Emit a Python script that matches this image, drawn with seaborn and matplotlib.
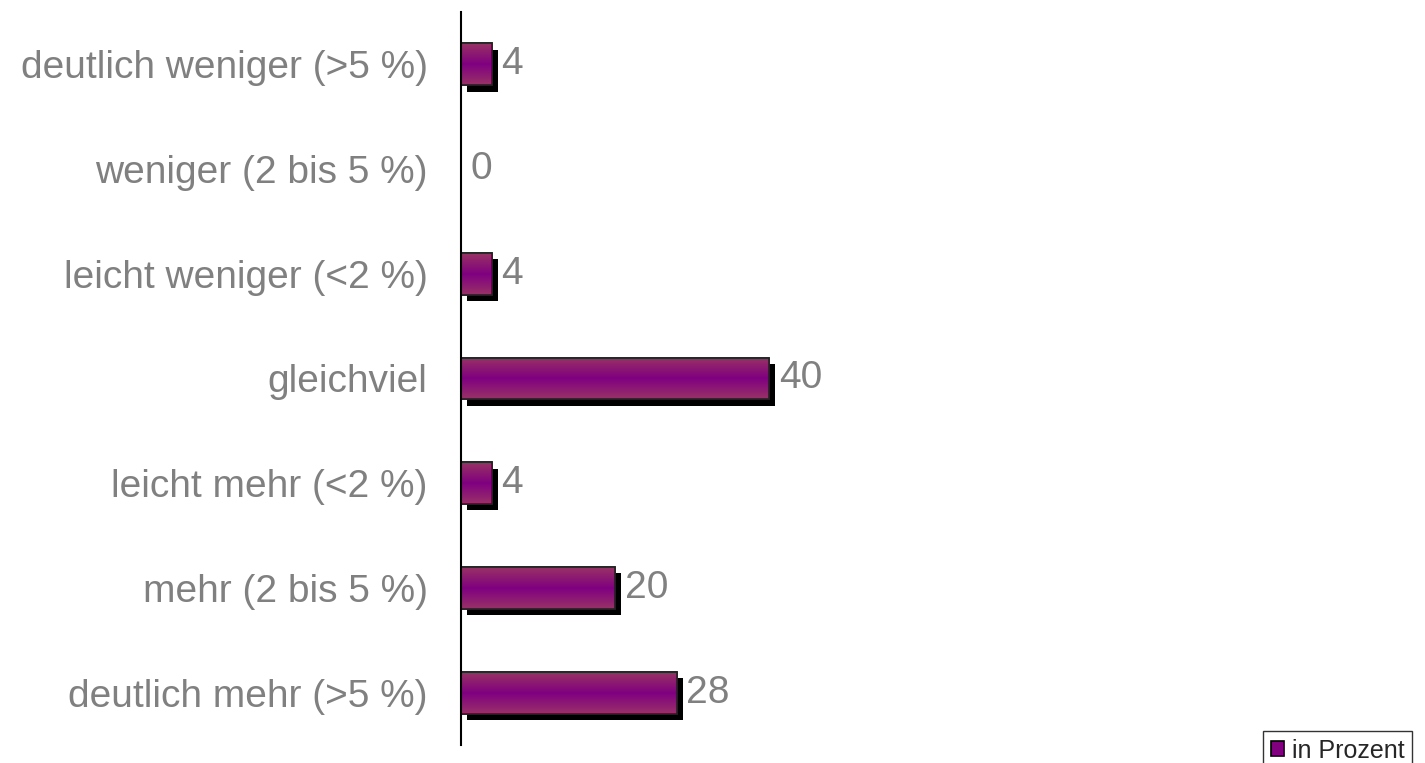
import numpy as np
import pandas as pd
import matplotlib.pyplot as plt
import matplotlib.patheffects as pe
from matplotlib.colors import LinearSegmentedColormap
from matplotlib.patches import Patch
import seaborn as sns

# Daten
kategorien = ['deutlich weniger (>5 %)', 'weniger (2 bis 5 %)', 'leicht weniger (<2 %)',
              'gleichviel', 'leicht mehr (<2 %)', 'mehr (2 bis 5 %)', 'deutlich mehr (>5 %)']
werte = [4, 0, 4, 40, 4, 20, 28]
serie = 'in Prozent'

df = pd.DataFrame({'kategorie': kategorien, 'wert': werte})

sns.set_style("white")
plt.rcParams['font.family'] = ['Liberation Sans', 'DejaVu Sans']

fig = plt.figure(figsize=(14.25, 7.63), dpi=100)
ax = fig.add_axes([461 / 1425, 18 / 763, (1300 - 461) / 1425, 733 / 763])

sns.barplot(data=df, x='wert', y='kategorie', orient='h', color='#800080',
            width=0.4, edgecolor='#222222', linewidth=1.2, ax=ax)

# Farbverlauf (oben/unten rötlich, Mitte lila)
cmap = LinearSegmentedColormap.from_list('lila', ['#993366', '#800080', '#993366'])
grad = np.linspace(0, 1, 256).reshape(-1, 1)

for p in ax.patches:
    if p.get_width() == 0:
        p.set_visible(False)
        continue
    p.set_path_effects([pe.SimplePatchShadow(offset=(4.5, -4.5), shadow_rgbFace='black', alpha=1),
                        pe.Normal()])
    x0, y0 = p.get_x(), p.get_y()
    x1, y1 = x0 + p.get_width(), y0 + p.get_height()
    im = ax.imshow(grad, extent=[x0, x1, y1, y0], aspect='auto', cmap=cmap,
                   interpolation='bilinear', zorder=p.get_zorder() + 0.1)
    im.set_clip_path(p)
    # Rand oben drauf
    ax.add_patch(plt.Rectangle((x0, y0), p.get_width(), p.get_height(), fill=False,
                               edgecolor='#222222', linewidth=1.2, zorder=p.get_zorder() + 0.2))

for c in ax.containers:
    ax.bar_label(c, labels=[str(v) for v in werte], padding=7, color='#808080', fontsize=28)

ax.set_xlim(0, (1300 - 461) / 7.7)
ax.set_ylim(6.5, -0.5)
ax.set_xlabel('')
ax.set_ylabel('')
ax.set_xticks([])
ax.tick_params(axis='y', length=0, pad=24, labelsize=28, labelcolor='#808080')
for s in ['top', 'right', 'bottom']:
    ax.spines[s].set_visible(False)
ax.spines['left'].set_color('black')
ax.spines['left'].set_linewidth(1.5)

handle = Patch(facecolor='#800080', edgecolor='black', linewidth=1.2)
leg = fig.legend([handle], [serie], loc='upper left', bbox_to_anchor=(1263 / 1425, 1 - 731 / 763),
                 frameon=True, fancybox=False, edgecolor='black', fontsize=18,
                 handlelength=0.55, handleheight=0.55, handletextpad=0.3, borderpad=0.3,
                 borderaxespad=0)
leg.get_frame().set_linewidth(1.0)

fig.savefig('out.png', dpi=100)
